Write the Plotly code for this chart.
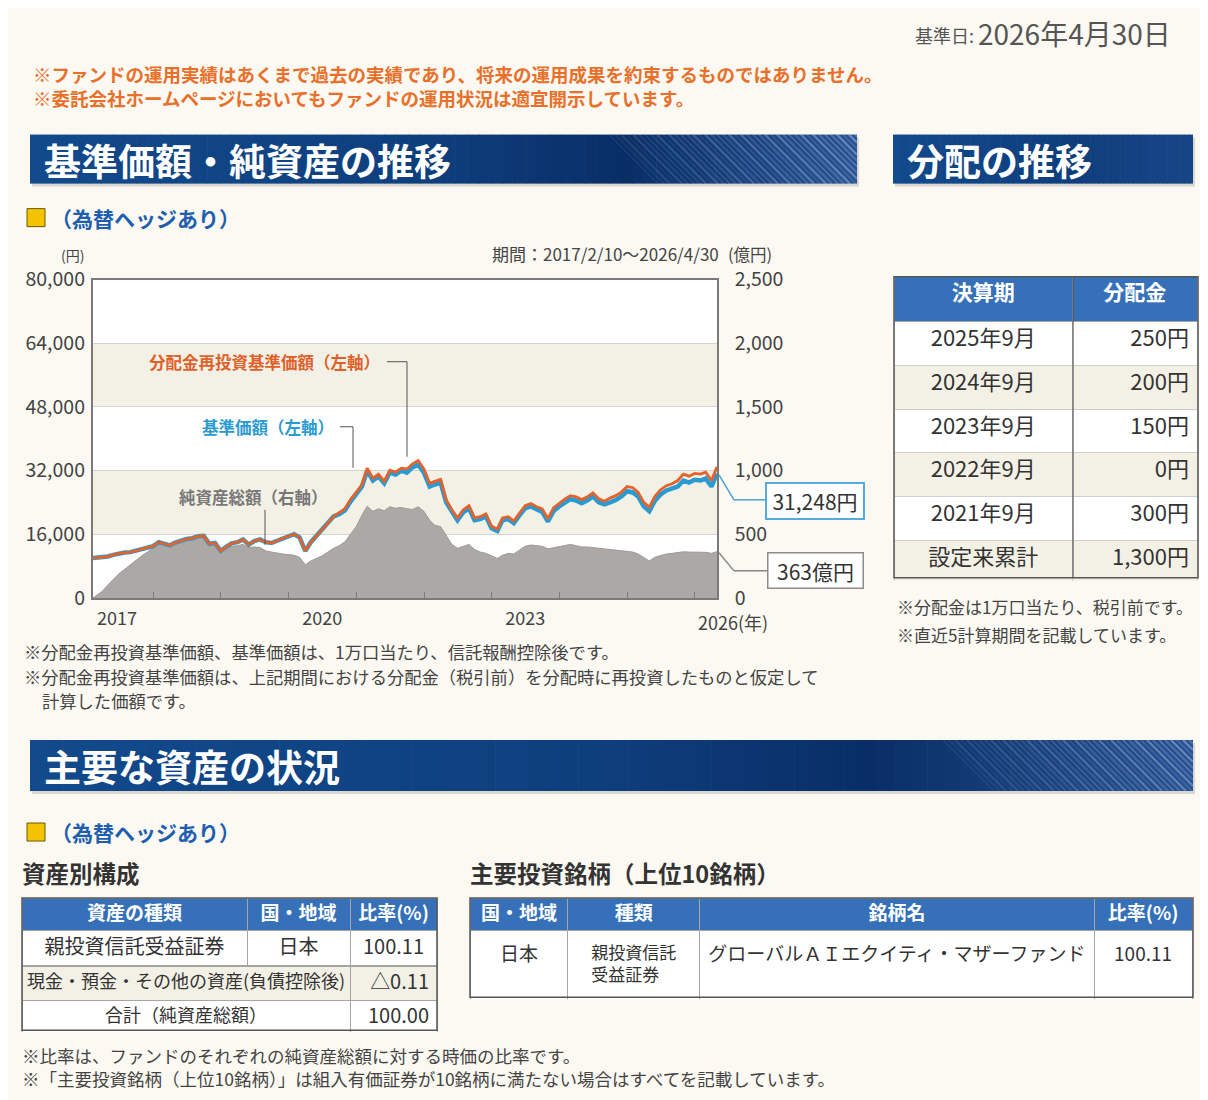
import plotly.graph_objects as go
import pandas as pd

# The page is photographed with the browser's default body margin, so the figure is
# made 1192 px wide (fits the 1208 px window) and positions are given in window pixels.
W, H = 1192, 1100
OX = 8            # horizontal offset of the figure in the window
OY, SY = 24.5, 0.973   # vertical offset / scale seen in the photographed window
FONT = "Noto Sans CJK JP"

# ---------------- data ----------------
dates = ["2017-02-10"] + [d.strftime("%Y-%m-%d") for d in pd.date_range("2017-03-31", "2026-04-30", freq="ME")]

# 基準価額 (円, left axis)
nav = [
    10000, 10150, 10400, 10800, 11200, 11400, 11500, 11900, 12400, 12700, 13000,
    14000, 13600, 13200, 13900, 14400, 14800, 15000, 15500, 15600, 13600, 13800, 11800,
    12900, 13700, 14000, 14700, 13400, 14300, 14700, 14000, 13800, 14300, 15000, 15500,
    16000, 15200, 11800, 14000, 15600, 17000, 18800, 20500, 21000, 22000, 24200, 26000,
    28000, 32000, 29500, 30500, 28800, 31500, 31000, 32000, 31500, 32800, 33500, 31500,
    28000, 28500, 29000, 24000, 21500, 19500, 21500, 22500, 19500, 19800, 20500, 17500,
    16800, 19500, 19800, 18800, 20800, 22500, 23000, 22300, 21600, 19200, 21800, 23000,
    24000, 24800, 24500, 23800, 24500, 25500, 24000, 23500, 24000, 24600, 25500, 26800,
    26500, 25500, 23000, 21800, 24500, 26000, 27000, 27500, 28000, 29500, 29000, 29700,
    29500, 30000, 28000, 31248,
]
# 分配金再投資基準価額 (円, left axis)
nav_reinvested = [
    10000, 10150, 10400, 10800, 11200, 11400, 11500, 11900, 12400, 12700, 13000,
    14000, 13600, 13200, 13900, 14400, 14800, 15000, 15500, 15600, 13600, 13800, 11800,
    12900, 13700, 14000, 14700, 13400, 14300, 14700, 14000, 13800, 14300, 15000, 15500,
    16000, 15200, 11800, 14000, 15600, 17000, 18800, 20500, 21400, 22400, 24700, 26500,
    28500, 32600, 30100, 31100, 29300, 32100, 31600, 32600, 32400, 33700, 34500, 32400,
    28800, 29300, 29800, 24700, 22100, 20100, 22100, 23200, 20100, 20400, 21100, 18000,
    17300, 20100, 20400, 19300, 21400, 23200, 23700, 22900, 22400, 19900, 22600, 23800,
    24900, 25700, 25400, 24700, 25400, 26400, 24900, 24300, 25100, 25700, 26600, 28000,
    27700, 26600, 24000, 22800, 25600, 27200, 28200, 28700, 29500, 31100, 30600, 31300,
    31100, 31600, 29500, 32940,
]
# 純資産総額 (億円, right axis)
net_assets = [
    0, 50, 100, 150, 190, 225, 260, 300, 330, 360, 390,
    420, 420, 420, 440, 455, 465, 470, 475, 470, 430, 430, 380,
    390, 405, 410, 420, 395, 400, 395, 370, 360, 350, 345, 340,
    335, 320, 260, 290, 310, 330, 360, 390, 410, 440, 500, 560,
    650, 720, 680, 700, 685, 715, 705, 710, 700, 695, 715, 680,
    610, 570, 560, 490, 420, 390, 405, 420, 380, 360, 350, 330,
    310, 335, 350, 345, 375, 405, 415, 410, 405, 385, 395, 405,
    415, 420, 410, 400, 400, 395, 385, 380, 375, 370, 368, 365,
    360, 345, 320, 290, 320, 335, 345, 350, 355, 362, 360, 358,
    356, 358, 350, 363,
]

left_ticks = [0, 16000, 32000, 48000, 64000, 80000]
left_ticktext = ["0", "16,000", "32,000", "48,000", "64,000", "80,000"]
right_ticks = [0, 500, 1000, 1500, 2000, 2500]
right_ticktext = ["0", "500", "1,000", "1,500", "2,000", "2,500"]
band_ranges = [(500, 1000), (1500, 2000)]
x_label_vals = ["2017-06-20", "2020-07-01", "2023-07-01"]
x_label_text = ["2017", "2020", "2023"]
x_last_label = "2026(年)"
year_starts = [f"{y}-01-01" for y in range(2018, 2027)]

latest_nav_label = "31,248円"
latest_assets_label = "363億円"

dist_periods = ["2025年9月", "2024年9月", "2023年9月", "2022年9月", "2021年9月", "設定来累計"]
dist_amounts = ["250円", "200円", "150円", "0円", "300円", "1,300円"]

asset_header = ["資産の種類", "国・地域", "比率(%)"]
asset_row1 = ["親投資信託受益証券", "日本", "100.11"]
asset_merged_names = ["現金・預金・その他の資産(負債控除後)", "合計（純資産総額）"]
asset_merged_ratios = ["△0.11", "100.00"]

hold_header = ["国・地域", "種類", "銘柄名", "比率(%)"]
hold_row = ["日本<br> ", "親投資信託<br>受益証券", "グローバルＡＩエクイティ・マザーファンド<br> ", "100.11<br> "]


# ---------------- helpers (window pixel positions -> paper) ----------------
def X(p):
    return (p - OX) / W


def Y(p):
    return 1 - ((p - OY) / SY) / H


def HP(h):
    return h / SY


shapes = []
annotations = []


def txt(x, y, text, size, color="#444", anchor="left", bold=False, **kw):
    annotations.append(dict(
        x=X(x), y=Y(y), xref="paper", yref="paper", text=("<b>%s</b>" % text) if bold else text,
        showarrow=False, xanchor=anchor, yanchor="middle", align=anchor,
        font=dict(family=FONT, size=size, color=color), **kw))


def rect(x0, y0, x1, y1, fill, line_color=None, lw=0, layer="above"):
    shapes.append(dict(type="rect", xref="paper", yref="paper",
                       x0=X(x0), x1=X(x1), y0=Y(y1), y1=Y(y0),
                       fillcolor=fill, line=dict(width=lw, color=line_color or fill), layer=layer))


def seg(pts, color="#555", width=1):
    for (ax, ay), (bx, by) in zip(pts[:-1], pts[1:]):
        shapes.append(dict(type="line", xref="paper", yref="paper",
                           x0=X(ax), y0=Y(ay), x1=X(bx), y1=Y(by),
                           line=dict(color=color, width=width), layer="above"))


def lerp_color(stops, t):
    for (t0, c0), (t1, c1) in zip(stops[:-1], stops[1:]):
        if t <= t1:
            f = (t - t0) / (t1 - t0) if t1 > t0 else 0
            return "rgb(%d,%d,%d)" % tuple(round(a + (b - a) * f) for a, b in zip(c0, c1))
    return "rgb(%d,%d,%d)" % stops[-1][1]


def banner(x0, y0, x1, y1, title, texture=True, tsize=37):
    rect(x0 + 2, y0 + 3, x1 + 2, y1 + 3, "rgba(60,60,60,0.18)", layer="below")
    stops = [(0, (18, 74, 140)), (0.5, (14, 62, 124)), (0.72, (9, 46, 102)), (1.0, (40, 82, 146))]
    if not texture:
        stops = [(0, (18, 74, 140)), (0.6, (14, 62, 124)), (1.0, (22, 70, 134))]
    n = 70
    for i in range(n):
        a = x0 + (x1 - x0) * i / n
        b = x0 + (x1 - x0) * (i + 1) / n
        rect(a, y0, min(b + 0.6, x1), y1, lerp_color(stops, (i + 0.5) / n), layer="below")
    if texture:
        h = y1 - y0
        xs = x0 + (x1 - x0) * 0.70 if (x1 - x0) < 900 else x1 - 250
        sx = xs
        k = 0
        while sx < x1 - 2:
            ex, ey = sx + h, y1
            if ex > x1:
                ex = x1
                ey = y0 + (x1 - sx)
            f = (sx - xs) / (x1 - xs)
            alpha = 0.12 + 0.38 * f if k % 2 == 0 else 0.07 + 0.22 * f
            shapes.append(dict(type="line", xref="paper", yref="paper",
                               x0=X(sx), y0=Y(y0), x1=X(ex), y1=Y(ey),
                               line=dict(color="rgba(175,200,235,%.2f)" % alpha, width=2.2 if k % 3 else 1.2),
                               layer="below"))
            sx += 6
            k += 1
    txt(x0 + 12, (y0 + y1) / 2 + 1, title, tsize, "white", bold=True)


# ---------------- chart traces ----------------
fig = go.Figure()
fig.add_trace(go.Scatter(x=dates, y=net_assets, yaxis="y", mode="lines", fill="tozeroy",
                         line=dict(color="#9d9a97", width=1), fillcolor="#aba8a5",
                         hoverinfo="skip", name="純資産総額"))
fig.add_trace(go.Scatter(x=dates, y=nav, yaxis="y2", mode="lines",
                         line=dict(color="#2a9ad2", width=4.5), name="基準価額"))
fig.add_trace(go.Scatter(x=dates, y=nav_reinvested, yaxis="y2", mode="lines",
                         line=dict(color="#e4632b", width=2.8), name="分配金再投資基準価額"))

for lo, hi in band_ranges:
    shapes.append(dict(type="rect", xref="x domain", yref="y", x0=0, x1=1, y0=lo, y1=hi,
                       fillcolor="#f3f1e6", line=dict(width=0), layer="below"))

# ---------------- page texts ----------------
txt(976, 35, "基準日:", 18, "#555", anchor="right")
txt(976, 33, "2026年4月30日", 28, "#555")
txt(31, 86, "※ファンドの運用実績はあくまで過去の実績であり、将来の運用成果を約束するものではありません。<br>"
            "※委託会社ホームページにおいてもファンドの運用状況は適宜開示しています。", 18.5, "#e8702a", bold=True)

banner(30, 135, 857, 184, "基準価額・純資産の推移")
banner(893, 135, 1193, 184, "分配の推移", texture=False)
banner(30, 740, 1193, 791, "主要な資産の状況")

for yy in (218, 832):
    rect(27, yy - 9, 45, yy + 9, "#f3c300", "#6b5a00", 1)
    txt(49, yy, "（為替ヘッジあり）", 21, "#1d5fae", bold=True)

txt(72, 255, "(円)", 14, "#444", anchor="center")
txt(721, 254, "期間：2017/2/10～2026/4/30", 17, "#444", anchor="right")
txt(726, 254, "(億円)", 16.5, "#444")
txt(696, 622, x_last_label, 18, "#444")

# series labels and leaders
txt(382, 362, "分配金再投資基準価額（左軸）", 16.5, "#e0602a", anchor="right", bold=True)
seg([(387, 362), (407, 362), (407, 457)])
txt(336, 427, "基準価額（左軸）", 16.5, "#2a9ad2", anchor="right", bold=True)
seg([(340, 427), (353, 427), (353, 468)])
txt(253, 497, "純資産総額（右軸）", 16.5, "#777", anchor="center", bold=True)
seg([(265, 510), (265, 545)])

# end-value callouts
seg([(719, 475), (734, 500), (766, 500)], color="#4aa3d8", width=1.5)
annotations.append(dict(x=X(815), y=Y(501), xref="paper", yref="paper", text=latest_nav_label,
                        showarrow=False, xanchor="center", yanchor="middle",
                        font=dict(family=FONT, size=21, color="#333"),
                        bgcolor="white", bordercolor="#55a9dc", borderwidth=2, borderpad=2, width=92))
seg([(719, 553), (734, 571), (768, 571)], color="#888", width=1.5)
annotations.append(dict(x=X(815), y=Y(571), xref="paper", yref="paper", text=latest_assets_label,
                        showarrow=False, xanchor="center", yanchor="middle",
                        font=dict(family=FONT, size=21, color="#333"),
                        bgcolor="white", bordercolor="#8c8c8c", borderwidth=1.5, borderpad=2, width=90))

txt(22, 652, "※分配金再投資基準価額、基準価額は、1万口当たり、信託報酬控除後です。", 17.3, "#444")
txt(22, 677, "※分配金再投資基準価額は、上記期間における分配金（税引前）を分配時に再投資したものと仮定して", 17.3, "#444")
txt(40, 701, "計算した価額です。", 17.3, "#444")

txt(895, 607, "※分配金は1万口当たり、税引前です。", 17, "#444")
txt(895, 635, "※直近5計算期間を記載しています。", 17, "#444")

txt(20, 873, "資産別構成", 23.5, "#333", bold=True)
txt(468, 873, "主要投資銘柄（上位10銘柄）", 23.5, "#333", bold=True)

txt(20, 1067, "※比率は、ファンドのそれぞれの純資産総額に対する時価の比率です。<br>"
              "※「主要投資銘柄（上位10銘柄）」は組入有価証券が10銘柄に満たない場合はすべてを記載しています。", 17.5, "#444")

# ---------------- tables ----------------
HEAD = "#3570b8"
BEIGE = "#f3f1e6"
GRID = "#a5a5a5"
head_font = dict(family=FONT, size=19, color="white", weight="bold")

fig.add_trace(go.Table(
    domain=dict(x=[X(894), X(1198)], y=[Y(581), Y(277)]),
    columnwidth=[179, 125],
    header=dict(values=["決算期", "分配金"], fill_color=HEAD, height=HP(44),
                font=dict(family=FONT, size=21, color="white", weight="bold"), align="center",
                line=dict(color=GRID, width=1)),
    cells=dict(values=[dist_periods, dist_amounts],
               fill_color=[["white", BEIGE] * 3] * 2, height=HP(42.5),
               font=dict(family=FONT, size=22, color="#333"), align=["center", "right"],
               line=dict(color="#cfcfcf", width=1)),
))
rect(894, 277, 1198, 578, "rgba(0,0,0,0)", "#555", 1.5)
seg([(1073, 277), (1073, 578)], color="#555", width=1.2)

fig.add_trace(go.Table(
    domain=dict(x=[X(22), X(437)], y=[Y(967), Y(898)]),
    columnwidth=[225, 103, 87],
    header=dict(values=asset_header, fill_color=HEAD, height=HP(32),
                font=head_font, align="center", line=dict(color=GRID, width=1)),
    cells=dict(values=[[v] for v in asset_row1], fill_color="white", height=HP(34),
               font=dict(family=FONT, size=20, color="#333"), align="center",
               line=dict(color=GRID, width=1)),
))
fig.add_trace(go.Table(
    domain=dict(x=[X(22), X(437)], y=[Y(1032), Y(966)]),
    columnwidth=[328, 87],
    header=dict(values=[asset_merged_names[0], asset_merged_ratios[0]], fill_color=BEIGE, height=HP(33),
                font=dict(family=FONT, size=[18, 20], color="#333"), align=["center", "right"],
                line=dict(color=GRID, width=1)),
    cells=dict(values=[asset_merged_names[1:], asset_merged_ratios[1:]],
               fill_color="white", height=HP(32),
               font=dict(family=FONT, size=[18, 20], color="#333"), align=["center", "right"],
               line=dict(color=GRID, width=1)),
))
rect(22, 898, 437, 1030, "rgba(0,0,0,0)", "#555", 1.5)

fig.add_trace(go.Table(
    domain=dict(x=[X(470), X(1193)], y=[Y(999), Y(898)]),
    columnwidth=[98, 132, 395, 98],
    header=dict(values=hold_header, fill_color=HEAD, height=HP(32),
                font=head_font, align="center", line=dict(color=GRID, width=1)),
    cells=dict(values=[[v] for v in hold_row], fill_color="white", height=HP(67),
               font=dict(family=FONT, size=[19, 17, 19, 19], color="#333"), align="center",
               line=dict(color=GRID, width=1)),
))
rect(470, 898, 1193, 997, "rgba(0,0,0,0)", "#555", 1.5)

# ---------------- layout ----------------
axis_line = "#7a7a7a"
tickfont = dict(family=FONT, size=19.5, color="#444")
fig.update_layout(
    width=W, height=H, margin=dict(l=0, r=0, t=0, b=0),
    paper_bgcolor="#fbf9f2", plot_bgcolor="white", showlegend=False,
    xaxis=dict(domain=[X(93), X(717)], type="date", range=["2017-02-10", "2026-04-30"],
               tickmode="array", tickvals=x_label_vals, ticktext=x_label_text, ticks="",
               showgrid=False, zeroline=False, showline=True, linecolor=axis_line, linewidth=1.5,
               mirror=True, tickfont=dict(family=FONT, size=18, color="#444"), ticklabelstandoff=4,
               minor=dict(tickmode="array", tickvals=year_starts, ticks="inside", ticklen=6,
                          tickwidth=1.2, tickcolor=axis_line, showgrid=False),
               fixedrange=True, anchor="y"),
    yaxis=dict(domain=[Y(598), Y(280)], range=[0, 2500], side="right",
               tickmode="array", tickvals=right_ticks, ticktext=right_ticktext, ticks="",
               showgrid=True, gridcolor="#d6d4cd", gridwidth=1, zeroline=False,
               showline=True, linecolor=axis_line, linewidth=1.5, mirror=True,
               tickfont=tickfont, ticklabelstandoff=12, fixedrange=True, anchor="x"),
    yaxis2=dict(overlaying="y", side="left", range=[0, 80000],
                tickmode="array", tickvals=left_ticks, ticktext=left_ticktext, ticks="",
                showgrid=False, zeroline=False, showline=False,
                tickfont=tickfont, ticklabelstandoff=7, fixedrange=True, anchor="x"),
    shapes=shapes, annotations=annotations,
)

fig.write_html("out.html")
